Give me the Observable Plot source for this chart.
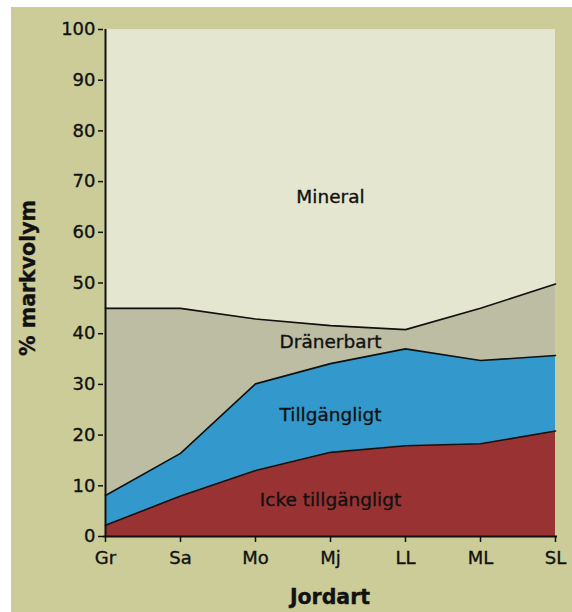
<!DOCTYPE html>
<html>
<head>
<meta charset="utf-8">
<script src="https://cdn.jsdelivr.net/npm/d3@7"></script>
<script src="https://cdn.jsdelivr.net/npm/@observablehq/plot@0.6"></script>
<style>
  html, body { margin: 0; padding: 0; background: #ffffff; }
  #wrap { position: absolute; left: 11px; top: 7px; width: 561px; height: 605px; background: #cccc99; }
  svg { font-family: "DejaVu Sans", Verdana, sans-serif; }
  svg text { stroke: #111; stroke-width: 0.35px; paint-order: stroke; }
</style>
</head>
<body>
<div id="wrap"></div>
<script>
const categories = ["Gr", "Sa", "Mo", "Mj", "LL", "ML", "SL"];
const ickeTop    = [2.2, 8.0, 13.0, 16.6, 17.9, 18.3, 20.8];
const tillgTop   = [8.1, 16.4, 30.1, 34.1, 37.0, 34.7, 35.7];
const dranTop    = [45.0, 45.0, 42.9, 41.6, 40.8, 45.0, 49.8];
const mineralTop = [100, 100, 100, 100, 100, 100, 100];
const layerNames = ["Icke tillgängligt", "Tillgängligt", "Dränerbart", "Mineral"];
const layerColors = ["#993333", "#3399cc", "#bdbda3", "#e5e6cf"];
const labelY = [7.1, 23.9, 38.3, 66.9];
const labelX = "Mj";
const yTicks = [0, 10, 20, 30, 40, 50, 60, 70, 80, 90, 100];

const bounds = [categories.map(() => 0), ickeTop, tillgTop, dranTop, mineralTop];
const rows = [];
layerNames.forEach((name, i) => {
  categories.forEach((c, j) => {
    rows.push({layer: name, cat: c, lo: bounds[i][j], hi: bounds[i + 1][j]});
  });
});
const lines = [];
[ickeTop, tillgTop, dranTop].forEach((arr, i) => {
  categories.forEach((c, j) => lines.push({b: i, cat: c, v: arr[j]}));
});
const labels = layerNames.map((n, i) => ({name: n, cat: labelX, y: labelY[i]}));

const chart = Plot.plot({
  width: 561,
  height: 605,
  marginLeft: 92,
  marginRight: 15,
  marginTop: 22,
  marginBottom: 76,
  style: {background: "transparent", fontSize: "18px", fontFamily: "'DejaVu Sans', Verdana, sans-serif", color: "#111"},
  x: {type: "point", domain: categories, padding: 0, label: null},
  y: {domain: [0, 100], label: null},
  color: {domain: layerNames, range: layerColors},
  marks: [
    Plot.areaY(rows, {x: "cat", y1: "lo", y2: "hi", fill: "layer", z: "layer", curve: "linear"}),
    Plot.lineY(lines, {x: "cat", y: "v", z: "b", stroke: "#111", strokeWidth: 1.6}),
    Plot.ruleY([0], {stroke: "#111", strokeWidth: 2}),
    Plot.ruleX([categories[0]], {y1: 0, y2: 100, stroke: "#111", strokeWidth: 2}),
    Plot.axisY({ticks: yTicks, tickSize: 5, tickPadding: 3, tickFormat: d => d, fontSize: 18, stroke: "#111", strokeWidth: 1.5, label: null}),
    Plot.axisX({tickSize: 6, tickPadding: 9, fontSize: 18, stroke: "#111", strokeWidth: 1.5, label: null}),
    Plot.text(labels, {x: "cat", y: "y", text: "name", fontSize: 18.5, fill: "#111"})
  ]
});

const svg = d3.select(chart);
svg.append("text")
  .attr("x", 319).attr("y", 598 - 7)
  .attr("text-anchor", "middle").attr("dominant-baseline", "middle")
  .attr("font-weight", "bold").attr("font-size", 20.5).attr("fill", "#111")
  .text("Jordart");
svg.append("text")
  .attr("transform", "translate(18, 271) rotate(-90)")
  .attr("text-anchor", "middle").attr("dominant-baseline", "middle")
  .attr("font-weight", "bold").attr("font-size", 20.5).attr("fill", "#111")
  .text("% markvolym");

document.getElementById("wrap").appendChild(chart);
</script>
</body>
</html>
